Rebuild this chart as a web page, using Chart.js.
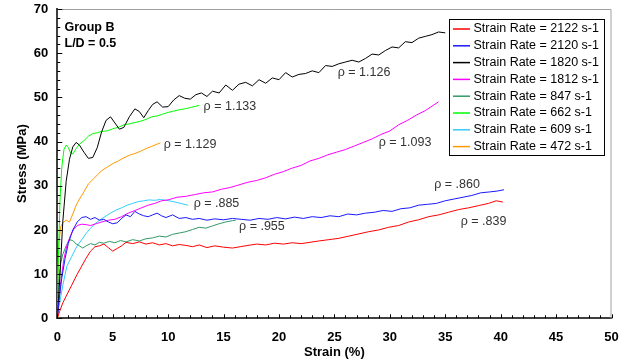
<!DOCTYPE html>
<html>
<head>
<meta charset="utf-8">
<script src="https://cdn.jsdelivr.net/npm/chart.js@4.4.1/dist/chart.umd.min.js"></script>
<style>
  html, body { margin: 0; padding: 0; background: #fff; }
  #wrap { width: 623px; height: 364px; }
</style>
</head>
<body>
<div id="wrap"><canvas id="stress-chart" width="623" height="364"></canvas></div>
<script>
// Stress-strain curves, Group B, L/D = 0.5
const seriesNames = ['Strain Rate = 2122 s-1', 'Strain Rate = 2120 s-1', 'Strain Rate = 1820 s-1', 'Strain Rate = 1812 s-1',
                     'Strain Rate = 847 s-1', 'Strain Rate = 662 s-1', 'Strain Rate = 609 s-1', 'Strain Rate = 472 s-1'];
const seriesColors = ['#ff0000', '#1a1aff', '#000000', '#ff00ff', '#339966', '#00ff00', '#33ccff', '#ff9900'];

const strain2122 = [0, 0.2, 0.5, 0.9, 1.3, 1.8, 2.2, 2.6, 3.0, 3.4, 3.8, 4.2, 4.6, 5.0, 5.4, 5.8, 6.2, 6.8, 7.4, 8.0, 8.6, 9.2, 9.8, 10.4, 11.0, 11.6, 12.2, 12.8, 13.5, 14.2, 15.0, 15.8, 16.5, 17.2, 18.0, 18.8, 19.6, 20.4, 21.2, 22.0, 22.8, 23.6, 24.5, 25.4, 26.3, 27.2, 28.1, 29.0, 29.9, 30.8, 31.7, 32.6, 33.5, 34.4, 35.3, 36.2, 37.1, 38.0, 38.9, 39.6, 40.2];
const stress2122 = [0, 1.5, 3.5, 5.5, 7.5, 10.0, 11.8, 13.6, 15.2, 16.2, 16.4, 16.8, 16.0, 15.2, 15.8, 16.4, 17.2, 16.9, 17.3, 16.8, 17.1, 16.6, 16.9, 16.4, 16.7, 16.5, 16.2, 16.6, 16.0, 16.4, 16.1, 15.9, 16.2, 16.5, 16.8, 16.6, 17.0, 16.8, 17.1, 16.9, 17.2, 17.5, 17.8, 18.1, 18.6, 19.1, 19.6, 20.0, 20.6, 21.0, 21.8, 22.3, 23.0, 23.4, 24.0, 24.6, 25.0, 25.5, 26.0, 26.6, 26.3];

const strain2120 = [0, 0.15, 0.4, 0.7, 1.0, 1.4, 1.8, 2.2, 2.6, 3.0, 3.4, 3.8, 4.2, 4.6, 5.0, 5.4, 5.8, 6.2, 6.6, 7.0, 7.4, 7.8, 8.2, 8.6, 9.0, 9.4, 9.8, 10.4, 11.0, 11.6, 12.2, 12.8, 13.5, 14.2, 15.0, 15.8, 16.6, 17.4, 18.2, 19.0, 19.8, 20.6, 21.4, 22.2, 23.0, 23.8, 24.6, 25.4, 26.2, 27.0, 27.8, 28.6, 29.4, 30.2, 31.0, 31.8, 32.6, 33.4, 34.2, 35.0, 35.8, 36.6, 37.4, 38.2, 39.0, 39.7, 40.3];
const stress2120 = [0, 4, 9, 13.5, 17, 20, 21.8, 22.8, 23.0, 22.4, 22.8, 22.2, 22.4, 21.8, 21.4, 21.6, 22.6, 23.4, 23.0, 24.2, 23.6, 23.2, 23.0, 23.4, 23.8, 23.2, 22.8, 23.4, 22.6, 22.8, 22.4, 22.6, 22.2, 22.5, 22.3, 22.6, 22.4, 22.2, 22.6, 22.4, 22.8, 22.5, 22.9, 22.6, 23.0, 22.8, 23.2, 23.0, 23.6, 23.4, 23.8, 24.0, 24.4, 24.2, 24.8, 25.0, 25.6, 25.8, 26.0, 26.6, 27.0, 27.4, 27.8, 28.4, 28.6, 28.8, 29.1];

const strain1820 = [0, 0.2, 0.5, 0.8, 1.1, 1.4, 1.7, 2.0, 2.4, 2.8, 3.2, 3.6, 4.0, 4.4, 4.8, 5.2, 5.6, 6.0, 6.5, 7.0, 7.4, 7.8, 8.2, 8.6, 9.0, 9.5, 10.0, 10.5, 11.0, 11.5, 12.0, 12.5, 13.0, 13.5, 14.0, 14.6, 15.2, 15.8, 16.4, 17.0, 17.6, 18.2, 18.8, 19.4, 20.0, 20.6, 21.2, 21.8, 22.4, 23.0, 23.6, 24.2, 24.8, 25.4, 26.0, 26.6, 27.2, 27.8, 28.4, 29.0, 29.6, 30.2, 30.8, 31.4, 32.0, 32.6, 33.2, 33.8, 34.4, 35.0];
const stress1820 = [0, 8, 22, 31, 36, 38.8, 39.8, 39.2, 37.6, 36.2, 36.4, 38.6, 42.2, 44.8, 45.6, 44.2, 42.8, 43.2, 45.6, 47.4, 46.8, 45.4, 47.0, 48.4, 49.0, 47.8, 47.9, 49.4, 50.4, 49.8, 49.6, 50.6, 51.0, 50.2, 51.4, 51.0, 52.8, 51.6, 53.0, 53.4, 52.6, 54.0, 53.2, 54.4, 54.0, 55.6, 54.6, 55.2, 55.4, 56.0, 55.6, 57.2, 57.0, 57.6, 58.0, 58.4, 58.0, 58.8, 59.8, 59.6, 60.6, 61.4, 61.2, 62.6, 62.4, 63.4, 63.8, 64.2, 64.8, 64.6];

const strain1812 = [0, 0.15, 0.35, 0.6, 0.9, 1.2, 1.5, 1.8, 2.2, 2.6, 3.0, 3.5, 4.0, 4.6, 5.2, 5.8, 6.4, 7.0, 7.6, 8.2, 8.8, 9.4, 10.0, 10.8, 11.6, 12.4, 13.2, 14.0, 14.8, 15.6, 16.4, 17.2, 18.0, 18.8, 19.6, 20.4, 21.2, 22.0, 22.8, 23.6, 24.4, 25.2, 26.0, 26.8, 27.6, 28.4, 29.2, 30.0, 30.8, 31.6, 32.4, 33.2, 33.8, 34.4];
const stress1812 = [0, 4, 9, 13.5, 16.8, 18.8, 20.2, 21.0, 21.3, 21.2, 21.0, 21.4, 21.8, 22.2, 22.4, 23.0, 23.8, 24.4, 25.0, 25.6, 26.0, 26.6, 26.8, 27.4, 27.6, 28.0, 28.4, 28.6, 29.2, 29.6, 30.2, 30.8, 31.2, 31.8, 32.6, 33.2, 34.0, 34.6, 35.6, 36.2, 37.0, 37.6, 38.2, 39.0, 39.8, 40.6, 41.6, 42.4, 43.8, 44.8, 46.0, 47.0, 48.0, 49.0];

const strain847 = [0, 0.1, 0.3, 0.5, 0.8, 1.1, 1.4, 1.7, 2.0, 2.3, 2.6, 3.0, 3.4, 3.8, 4.2, 4.7, 5.2, 5.7, 6.2, 6.8, 7.4, 8.0, 8.6, 9.2, 9.8, 10.4, 11.0, 11.6, 12.2, 12.8, 13.4, 14.0, 14.6, 15.2, 15.8, 16.1];
const stress847 = [0, 7, 12.5, 14.5, 16.4, 17.8, 17.6, 16.8, 16.4, 15.9, 16.4, 16.9, 16.6, 17.2, 17.0, 17.4, 17.1, 17.6, 17.3, 17.8, 17.5, 18.0, 18.2, 18.6, 18.4, 19.0, 19.3, 19.6, 20.1, 20.6, 20.4, 20.9, 21.4, 21.8, 22.1, 22.2];

const strain662 = [0, 0.1, 0.25, 0.4, 0.6, 0.8, 1.0, 1.2, 1.4, 1.7, 2.0, 2.4, 2.8, 3.2, 3.6, 4.0, 4.5, 5.0, 5.5, 6.0, 6.5, 7.0, 7.5, 8.0, 8.5, 9.0, 9.5, 10.0, 10.5, 11.0, 11.5, 12.0, 12.5, 12.8];
const stress662 = [0, 14, 27, 34, 38.2, 39.2, 38.6, 37.4, 37.2, 38.4, 39.4, 40.2, 41.2, 41.8, 42.0, 42.3, 42.4, 42.9, 43.2, 43.8, 44.0, 44.3, 44.6, 45.0, 45.6, 45.8, 46.2, 46.6, 46.9, 47.2, 47.4, 47.7, 48.0, 48.2];

const strain609 = [0, 0.1, 0.25, 0.5, 0.85, 1.3, 1.75, 2.2, 2.6, 3.0, 3.4, 3.8, 4.3, 4.8, 5.3, 5.8, 6.3, 6.8, 7.3, 7.8, 8.3, 8.8, 9.3, 9.8, 10.3, 10.8, 11.3, 11.8];
const stress609 = [0, 2, 4, 7.5, 11.7, 14, 16.2, 17.8, 19.2, 20.4, 21.4, 22.2, 23.0, 23.8, 24.5, 25.0, 25.6, 26.0, 26.4, 26.6, 26.8, 26.7, 26.9, 26.7, 26.5, 26.2, 25.9, 25.6];

const strain472 = [0, 0.05, 0.15, 0.3, 0.5, 0.8, 1.1, 1.4, 1.7, 2.0, 2.4, 2.8, 3.2, 3.6, 4.0, 4.5, 5.0, 5.5, 6.0, 6.5, 7.0, 7.5, 8.0, 8.5, 9.0, 9.3];
const stress472 = [0, 10, 17, 20.7, 21.6, 22.2, 21.8, 23.6, 25.6, 27.0, 28.6, 30.4, 31.4, 32.4, 33.4, 34.2, 35.0, 35.6, 36.3, 36.9, 37.3, 37.8, 38.4, 38.9, 39.4, 39.7];

const densityLabels = ['ρ = 1.126', 'ρ = 1.133', 'ρ = 1.129', 'ρ = 1.093', 'ρ = .885', 'ρ = .955', 'ρ = .860', 'ρ = .839'];

const strainSets = [strain2122, strain2120, strain1820, strain1812, strain847, strain662, strain609, strain472];
const stressSets = [stress2122, stress2120, stress1820, stress1812, stress847, stress662, stress609, stress472];

function toPoints(xs, ys) {
    return xs.map((x, i) => ({ x: x, y: ys[i] }));
}

const datasets = seriesNames.map((name, i) => ({
    label: name,
    data: toPoints(strainSets[i], stressSets[i]),
    borderColor: seriesColors[i],
    backgroundColor: seriesColors[i],
    borderWidth: 1,
    pointRadius: 0,
    showLine: true,
    tension: 0
}));

// where each rho label sits, in strain/stress units
const labelAnchors = [[25.3, 55.7], [13.2, 48.0], [9.6, 39.4], [29.0, 39.8], [12.3, 26.0], [16.4, 20.7], [34.0, 30.2], [36.4, 21.9]];

const decorPlugin = {
    id: 'decor',
    afterDraw(chart) {
        const ctx = chart.ctx;
        const area = chart.chartArea;
        const xs = chart.scales.x;
        const ys = chart.scales.y;
        ctx.save();

        // grey frame top/right
        ctx.strokeStyle = '#a0a0a0';
        ctx.lineWidth = 1;
        ctx.beginPath();
        ctx.moveTo(area.left, area.top + 0.5);
        ctx.lineTo(area.right - 0.5, area.top + 0.5);
        ctx.lineTo(area.right - 0.5, area.bottom);
        ctx.stroke();

        // inward tick marks
        ctx.strokeStyle = '#000';
        ctx.beginPath();
        for (let v = 0; v <= 70; v += 2) {
            const y = Math.round(ys.getPixelForValue(v)) + 0.5;
            const len = v % 10 === 0 ? 5 : 3;
            ctx.moveTo(area.left, y);
            ctx.lineTo(area.left + len, y);
        }
        for (let v = 0; v <= 50; v += 1) {
            const x = Math.round(xs.getPixelForValue(v)) + 0.5;
            const len = v % 5 === 0 ? 4 : 3;
            ctx.moveTo(x, area.bottom);
            ctx.lineTo(x, area.bottom - len);
        }
        ctx.stroke();

        // axis titles
        ctx.fillStyle = '#000';
        ctx.font = 'bold 13px "Liberation Sans", Arial, sans-serif';
        ctx.textAlign = 'center';
        ctx.textBaseline = 'middle';
        ctx.fillText('Strain (%)', (area.left + area.right) / 2, 352.5);
        ctx.save();
        ctx.translate(22.5, (area.top + area.bottom) / 2);
        ctx.rotate(-Math.PI / 2);
        ctx.fillText('Stress (MPa)', 0, 0);
        ctx.restore();

        // group note
        ctx.textAlign = 'left';
        ctx.font = 'bold 12.5px "Liberation Sans", Arial, sans-serif';
        ctx.fillText('Group B', 64.5, 28);
        ctx.fillText('L/D = 0.5', 64.5, 43.5);

        // rho labels
        ctx.font = '12.5px "Liberation Sans", Arial, sans-serif';
        ctx.fillStyle = '#333';
        densityLabels.forEach((txt, i) => {
            const a = labelAnchors[i];
            ctx.fillText(txt, xs.getPixelForValue(a[0]), ys.getPixelForValue(a[1]));
        });

        // legend box
        const bx = 449.5, by = 19.5, bw = 155, bh = 136;
        ctx.fillStyle = '#fff';
        ctx.fillRect(bx, by, bw, bh);
        ctx.strokeStyle = '#000';
        ctx.lineWidth = 1;
        ctx.strokeRect(bx, by, bw, bh);
        ctx.font = '12.5px "Liberation Sans", Arial, sans-serif';
        seriesNames.forEach((name, i) => {
            const ry = 29 + i * 16.8;
            ctx.strokeStyle = seriesColors[i];
            ctx.lineWidth = 1.5;
            ctx.beginPath();
            ctx.moveTo(453, ry);
            ctx.lineTo(470, ry);
            ctx.stroke();
            ctx.fillStyle = '#000';
            ctx.fillText(name, 473.5, ry);
        });

        ctx.restore();
    }
};

const chart = new Chart(document.getElementById('stress-chart').getContext('2d'), {
    type: 'scatter',
    data: { datasets: datasets },
    options: {
        responsive: false,
        animation: false,
        layout: { padding: { top: 9, right: 11.5, left: 0, bottom: 0 } },
        plugins: {
            legend: { display: false },
            tooltip: { enabled: false }
        },
        scales: {
            x: {
                type: 'linear',
                min: 0,
                max: 50,
                afterFit: (s) => { s.height = 45.7; s.paddingLeft = 0; s.paddingRight = 0; },
                grid: { display: false, drawTicks: false },
                border: { display: true, color: '#404040', width: 2 },
                ticks: {
                    stepSize: 5,
                    padding: 11,
                    color: '#000',
                    font: { family: '"Liberation Sans", Arial, sans-serif', size: 13, weight: 'bold' }
                }
            },
            y: {
                type: 'linear',
                min: 0,
                max: 70,
                afterFit: (s) => { s.width = 57.3; s.paddingTop = 0; s.paddingBottom = 0; },
                grid: { display: false, drawTicks: false },
                border: { display: true, color: '#404040', width: 2 },
                ticks: {
                    stepSize: 10,
                    padding: 9,
                    color: '#000',
                    font: { family: '"Liberation Sans", Arial, sans-serif', size: 13, weight: 'bold' }
                }
            }
        }
    },
    plugins: [decorPlugin]
});
</script>
</body>
</html>
